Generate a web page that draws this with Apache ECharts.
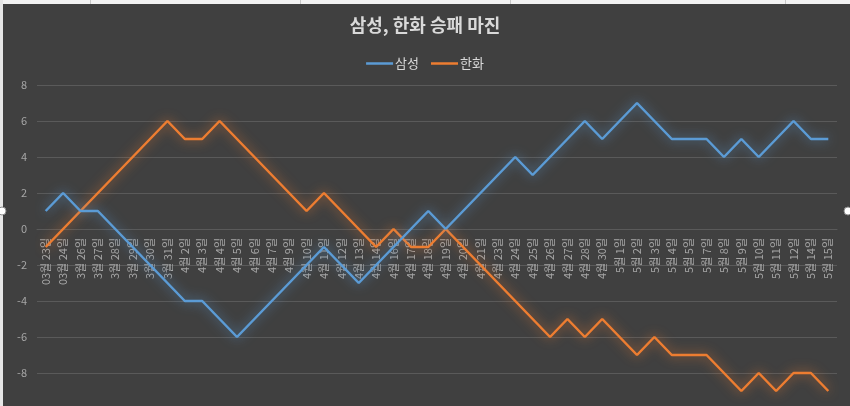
<!DOCTYPE html>
<html>
<head>
<meta charset="utf-8">
<script src="https://cdn.jsdelivr.net/npm/echarts@6/dist/echarts.min.js"></script>
<style>
  html, body { margin: 0; padding: 0; background: #404040; }
  #chart { width: 850px; height: 406px; }
</style>
</head>
<body>
<div id="chart"></div>
<script>
// 날짜 (카테고리)
var dates = [
    '03월 23일', '03월 24일', '3월 26일', '3월 27일', '3월 28일', '3월 29일', '3월 30일', '3월 31일',
    '4월 2일', '4월 3일', '4월 4일', '4월 5일', '4월 6일', '4월 7일', '4월 9일', '4월 10일',
    '4월 11일', '4월 12일', '4월 13일', '4월 14일', '4월 16일', '4월 17일', '4월 18일', '4월 19일',
    '4월 20일', '4월 21일', '4월 23일', '4월 24일', '4월 25일', '4월 26일', '4월 27일', '4월 28일',
    '4월 30일', '5월 1일', '5월 2일', '5월 3일', '5월 4일', '5월 5일', '5월 7일', '5월 8일',
    '5월 9일', '5월 10일', '5월 11일', '5월 12일', '5월 14일', '5월 15일'
]
// 승패 마진
var samsung = [1, 2, 1, 1, 0, -1, -2, -3, -4, -4, -5, -6, -5, -4, -3, -2,
    -1, -2, -3, -2, -1, 0, 1, 0, 1, 2, 3, 4, 3, 4, 5, 6,
    5, 6, 7, 6, 5, 5, 5, 4, 5, 4, 5, 6, 5, 5]
var hanwha = [-1, 0, 1, 2, 3, 4, 5, 6, 5, 5, 6, 5, 4, 3, 2, 1,
    2, 1, 0, -1, 0, -1, -1, 0, -1, -2, -3, -4, -5, -6, -5, -6,
    -5, -6, -7, -6, -7, -7, -7, -8, -9, -8, -9, -8, -8, -9]
var yMin = -10
var yMax = 8
var yStep = 2

var myChart = echarts.init(document.getElementById('chart'))

// 그리드: 위 85px, 아래는 화면 밖(409px)까지, 0 위치에 날짜 라벨
var gridTop = 85
var gridBottomY = 409
var zeroY = gridTop + (gridBottomY - gridTop) * yMax / (yMax - yMin)

var option = {
    backgroundColor: '#404040',
    textStyle: {
        fontFamily: '"Noto Sans CJK KR", "Noto Sans", sans-serif'
    },
    title: {
        text: '삼성, 한화 승패 마진',
        left: 'center',
        top: 11,
        textStyle: {
            color: '#d9d9d9',
            fontSize: 18,
            fontWeight: 'bold'
        }
    },
    legend: {
        data: ['삼성', '한화'],
        top: 52,
        left: 'center',
        icon: 'rect',
        itemWidth: 27,
        itemHeight: 2.5,
        itemGap: 12,
        textStyle: {
            color: '#d9d9d9',
            fontSize: 13,
            padding: [0, 0, 0, -3]
        }
    },
    grid: {
        left: 37,
        right: 13,
        top: gridTop,
        bottom: 406 - gridBottomY,
        containLabel: false,
        outerBoundsMode: 'none'
    },
    xAxis: [{
        type: 'category',
        boundaryGap: true,
        data: dates,
        offset: zeroY - gridBottomY,
        axisLine: {
            onZero: false,
            lineStyle: { color: '#5a5a5a', width: 1 }
        },
        axisTick: { show: false },
        axisLabel: {
            interval: 0,
            rotate: 90,
            margin: 9,
            color: '#a6a6a6',
            fontSize: 11
        }
    }],
    yAxis: [{
        type: 'value',
        min: yMin,
        max: yMax,
        interval: yStep,
        axisLine: { show: false },
        axisTick: { show: false },
        axisLabel: {
            color: '#a6a6a6',
            fontSize: 11,
            margin: 10,
            showMinLabel: false
        },
        splitLine: {
            lineStyle: { color: '#5a5a5a', width: 1 }
        }
    }],
    series: [
        {
            name: '삼성',
            type: 'line',
            data: samsung,
            symbol: 'none',
            color: '#5b9bd5',
            lineStyle: {
                width: 2.5,
                color: '#5b9bd5',
                shadowColor: 'rgba(91,155,213,0.85)',
                shadowBlur: 12
            },
            z: 3
        },
        {
            name: '한화',
            type: 'line',
            data: hanwha,
            symbol: 'none',
            color: '#ed7d31',
            lineStyle: {
                width: 2.5,
                color: '#ed7d31',
                shadowColor: 'rgba(237,125,49,0.85)',
                shadowBlur: 12
            },
            z: 2
        }
    ],
    // 엑셀 화면의 테두리와 선택 핸들
    graphic: [
        { type: 'rect', left: 0, top: 0, shape: { width: 850, height: 4 }, style: { fill: '#f2f2f2' } },
        { type: 'rect', left: 0, top: 0, shape: { width: 3, height: 406 }, style: { fill: '#e6e6e6' } },
        { type: 'rect', left: 90, top: 0, shape: { width: 1, height: 4 }, style: { fill: '#c8c8c8' } },
        { type: 'rect', left: 300, top: 0, shape: { width: 1, height: 4 }, style: { fill: '#c8c8c8' } },
        { type: 'rect', left: 510, top: 0, shape: { width: 1, height: 4 }, style: { fill: '#c8c8c8' } },
        { type: 'rect', left: 785, top: 0, shape: { width: 1, height: 4 }, style: { fill: '#c8c8c8' } },
        { type: 'circle', shape: { cx: 2, cy: 211, r: 4 }, style: { fill: '#ffffff', stroke: '#8c8c8c', lineWidth: 1 } },
        { type: 'circle', shape: { cx: 848, cy: 211, r: 4 }, style: { fill: '#ffffff', stroke: '#8c8c8c', lineWidth: 1 } }
    ]
}

myChart.setOption(option)
</script>
</body>
</html>
